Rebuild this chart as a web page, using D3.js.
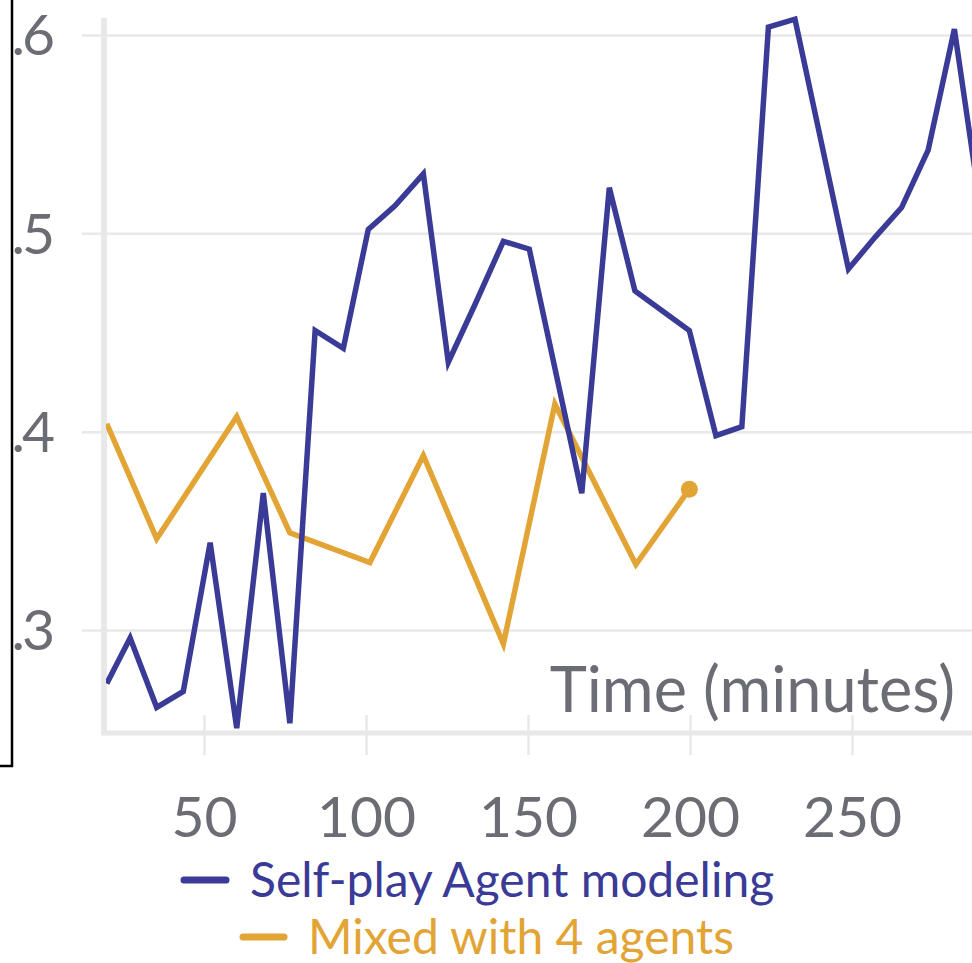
<!DOCTYPE html>
<html>
<head>
<meta charset="utf-8">
<script src="https://cdn.jsdelivr.net/npm/d3@7"></script>
<style>
  html, body { margin: 0; padding: 0; background: #fff; }
  svg { display: block; }
  text { font-family: Lato, "Source Sans Pro", "Open Sans", sans-serif; }
</style>
</head>
<body>
<svg id="chart" width="972" height="963"></svg>
<script>
// Self-play agent modeling run (minutes, score)
const selfPlayTimes = [20, 27.2, 35.4, 43.6, 51.9, 60.1, 68.3, 76.5, 84.3, 93.0, 100.7, 109.0,
  117.7, 125.4, 133.6, 142.4, 150.4, 166.6, 175.1, 183.0, 191.4, 199.8, 208.0, 216.0,
  224.2, 232.4, 248.9, 257.1, 265.3, 273.5, 281.6, 289.8];
const selfPlayValues = [0.273, 0.296, 0.261, 0.269, 0.344, 0.2505, 0.369, 0.253, 0.451, 0.442,
  0.502, 0.514, 0.530, 0.435, 0.464, 0.496, 0.492, 0.369, 0.523, 0.471, 0.461, 0.451,
  0.398, 0.4025, 0.604, 0.608, 0.482, 0.498, 0.513, 0.542, 0.603, 0.511];

// Mixed run with 4 agents
const mixedTimes = [20, 35.4, 60.1, 76.5, 101.2, 117.7, 142.4, 158.3, 183.3, 199.8];
const mixedValues = [0.404, 0.346, 0.4075, 0.349, 0.334, 0.388, 0.293, 0.414, 0.333, 0.371];

const xTicks = [50, 100, 150, 200, 250];
const yTicks = [0.3, 0.4, 0.5, 0.6];
const seriesNames = ["Self-play Agent modeling", "Mixed with 4 agents"];
const seriesColors = ["#3a3a97", "#e2a435"];
const axisTitle = "Time (minutes)";

const svg = d3.select("#chart");
const W = 972, H = 963;
const axisX = 104, axisY = 733;

const x = d3.scaleLinear().domain([50, 250]).range([204, 852]);
const y = d3.scaleLinear().domain([0.3, 0.6]).range([630, 35]);

const grey = "#6c6c75";
const lightGrey = "#e8e8e8";

// y labels are printed without the leading zero
const yFormat = d => d3.format(".1f")(d).replace(/^0/, "");

// horizontal gridlines + y labels
const yAxis = svg.append("g")
  .attr("transform", `translate(${axisX},0)`)
  .call(d3.axisLeft(y).tickValues(yTicks).tickFormat(yFormat).tickSize(0).tickPadding(52));
yAxis.select(".domain").remove();
yAxis.selectAll(".tick line")
  .attr("x1", -22).attr("x2", W - axisX)
  .attr("stroke", lightGrey).attr("stroke-width", 2.5);
yAxis.selectAll(".tick text")
  .attr("fill", grey).attr("font-size", 57).attr("dy", "0.35em")
  .attr("letter-spacing", -3);

// x ticks and labels
const xAxis = svg.append("g")
  .attr("transform", `translate(0,${axisY})`)
  .call(d3.axisBottom(x).tickValues(xTicks).tickSize(0).tickPadding(0));
xAxis.select(".domain").remove();
xAxis.selectAll(".tick line")
  .attr("y1", -18).attr("y2", 22)
  .attr("stroke", lightGrey).attr("stroke-width", 2.5);
xAxis.selectAll(".tick text")
  .attr("fill", grey).attr("font-size", 57).attr("y", 104).attr("dy", 0);

// axis lines
svg.append("line").attr("x1", axisX).attr("x2", axisX).attr("y1", 18).attr("y2", axisY + 2)
  .attr("stroke", lightGrey).attr("stroke-width", 6);
svg.append("line").attr("x1", axisX - 3).attr("x2", W).attr("y1", axisY).attr("y2", axisY)
  .attr("stroke", lightGrey).attr("stroke-width", 5);

// axis title
svg.append("text")
  .attr("x", 955).attr("y", 712)
  .attr("text-anchor", "end")
  .attr("fill", grey).attr("font-size", 63)
  .text(axisTitle);

// plot lines
svg.append("clipPath").attr("id", "plotClip")
  .append("rect").attr("x", axisX + 2).attr("y", 0).attr("width", W - axisX).attr("height", axisY);

const line = d3.line().x(d => x(d[0])).y(d => y(d[1]));
const plot = svg.append("g").attr("clip-path", "url(#plotClip)");

const selfPlay = d3.zip(selfPlayTimes, selfPlayValues);
const mixed = d3.zip(mixedTimes, mixedValues);

plot.append("path").datum(mixed)
  .attr("d", line).attr("fill", "none")
  .attr("stroke", seriesColors[1]).attr("stroke-width", 5.5).attr("stroke-linejoin", "miter");
const last = mixed[mixed.length - 1];
plot.append("circle").attr("cx", x(last[0])).attr("cy", y(last[1])).attr("r", 8.5)
  .attr("fill", seriesColors[1]);

plot.append("path").datum(selfPlay)
  .attr("d", line).attr("fill", "none")
  .attr("stroke", seriesColors[0]).attr("stroke-width", 5.5).attr("stroke-linejoin", "miter");

// legend
const legendRows = [
  { icon: [184, 226], textX: 250, y: 880 },
  { icon: [243, 284], textX: 308, y: 937 }
];
legendRows.forEach((r, i) => {
  svg.append("line")
    .attr("x1", r.icon[0]).attr("x2", r.icon[1]).attr("y1", r.y).attr("y2", r.y)
    .attr("stroke", seriesColors[i]).attr("stroke-width", 7).attr("stroke-linecap", "round");
  svg.append("text")
    .attr("x", r.textX).attr("y", r.y).attr("dy", "0.35em")
    .attr("fill", seriesColors[i]).attr("font-size", 48)
    .text(seriesNames[i]);
});

// frame on the left edge
svg.append("path").attr("d", "M12,0 V766 H0")
  .attr("fill", "none").attr("stroke", "#000").attr("stroke-width", 2.5);
</script>
</body>
</html>
